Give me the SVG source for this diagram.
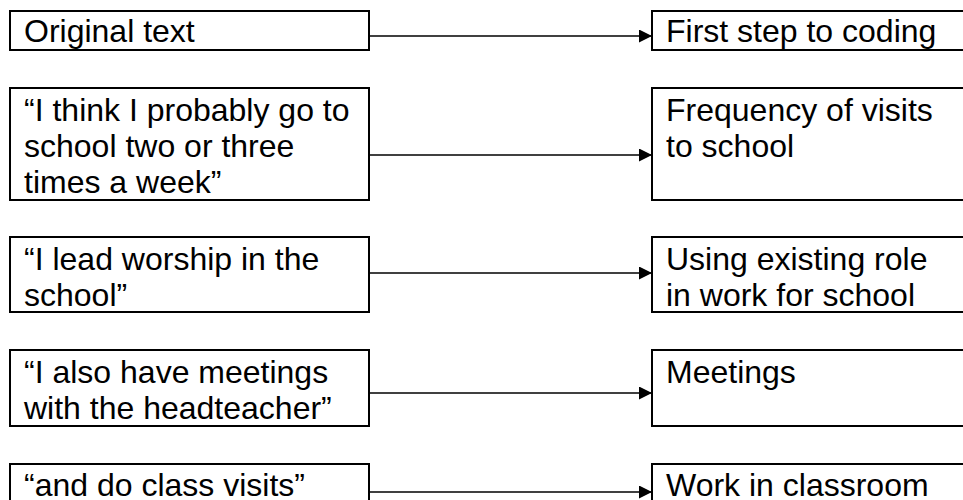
<svg xmlns="http://www.w3.org/2000/svg" width="963" height="500" viewBox="0 0 963 500">
<style>
.box{fill:#fff;stroke:#000;stroke-width:2}
.t{font-family:"Liberation Sans",Arial,sans-serif;font-size:32px;fill:#000}
.c{stroke:#000;stroke-width:1.5;fill:none}
</style>
<defs>
<marker id="ah" markerUnits="userSpaceOnUse" markerWidth="14" markerHeight="14" refX="13" refY="6.5" orient="auto">
<path d="M0,0 L13,6.5 L0,13 z" fill="#000"/>
</marker>
</defs>
<rect width="963" height="500" fill="#fff"/>
<g id="connectors">
<line class="c" x1="369" y1="36" x2="652" y2="36" marker-end="url(#ah)"/>
<line class="c" x1="369" y1="155" x2="652" y2="155" marker-end="url(#ah)"/>
<line class="c" x1="369" y1="273" x2="652" y2="273" marker-end="url(#ah)"/>
<line class="c" x1="369" y1="393" x2="652" y2="393" marker-end="url(#ah)"/>
<line class="c" x1="369" y1="492" x2="652" y2="492" marker-end="url(#ah)"/>
</g>
<g id="n1">
<rect class="box" x="10" y="11" width="359" height="39"/>
<text class="t" x="24" y="42">Original text</text>
</g>
<g id="n2">
<rect class="box" x="10" y="88" width="359" height="112"/>
<text class="t" x="24" y="121">“I think I probably go to</text>
<text class="t" x="24" y="157">school two or three</text>
<text class="t" x="24" y="193">times a week”</text>
</g>
<g id="n3">
<rect class="box" x="10" y="237" width="359" height="75"/>
<text class="t" x="24" y="270">“I lead worship in the</text>
<text class="t" x="24" y="306">school”</text>
</g>
<g id="n4">
<rect class="box" x="10" y="350" width="359" height="76"/>
<text class="t" x="24" y="383">“I also have meetings</text>
<text class="t" x="24" y="419">with the headteacher”</text>
</g>
<g id="n5">
<rect class="box" x="10" y="464" width="359" height="60"/>
<text class="t" x="24" y="496">“and do class visits”</text>
</g>
<g id="m1">
<rect class="box" x="652" y="11" width="330" height="39"/>
<text class="t" x="666" y="42">First step to coding</text>
</g>
<g id="m2">
<rect class="box" x="652" y="88" width="330" height="112"/>
<text class="t" x="666" y="121">Frequency of visits</text>
<text class="t" x="666" y="157">to school</text>
</g>
<g id="m3">
<rect class="box" x="652" y="237" width="330" height="75"/>
<text class="t" x="666" y="270">Using existing role</text>
<text class="t" x="666" y="306">in work for school</text>
</g>
<g id="m4">
<rect class="box" x="652" y="350" width="330" height="76"/>
<text class="t" x="666" y="383">Meetings</text>
</g>
<g id="m5">
<rect class="box" x="652" y="464" width="330" height="60"/>
<text class="t" x="666" y="496">Work in classroom</text>
</g>
</svg>
